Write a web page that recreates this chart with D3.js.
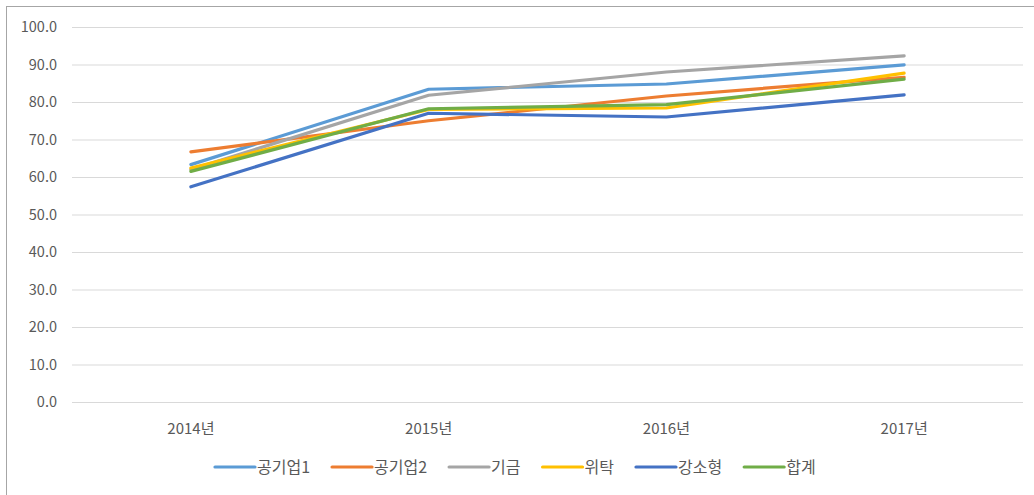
<!DOCTYPE html>
<html>
<head>
<meta charset="utf-8">
<script src="https://cdn.jsdelivr.net/npm/d3@7"></script>
<style>
  body { margin: 0; background: #fff; }
  svg text { font-family: "Noto Sans CJK KR", "Noto Sans", sans-serif; fill: #595959; }
</style>
</head>
<body>
<svg id="chart" width="1034" height="495"></svg>
<script>
// chart data
const years = ['2014년', '2015년', '2016년', '2017년'];
const seriesNames = ['공기업1', '공기업2', '기금', '위탁', '강소형', '합계'];
const gong1 = [63.3, 83.4, 84.8, 89.9];
const gong2 = [66.7, 75.0, 81.6, 86.6];
const gigeum = [62.0, 81.8, 88.0, 92.3];
const witak = [62.4, 78.0, 78.4, 87.7];
const gangso = [57.4, 77.0, 76.0, 81.9];
const total = [61.5, 78.2, 79.3, 86.1];
const yTicks = [0, 10, 20, 30, 40, 50, 60, 70, 80, 90, 100];

const colors = ['#5b9bd5', '#ed7d31', '#a5a5a5', '#ffc000', '#4472c4', '#70ad47'];
const allValues = [gong1, gong2, gigeum, witak, gangso, total];

const svg = d3.select('#chart');

// frame
svg.append('rect')
    .attr('x', 6.5).attr('y', 6.5)
    .attr('width', 1040).attr('height', 500)
    .attr('fill', 'none')
    .attr('stroke', '#a6a6a6')
    .attr('stroke-width', 1);

const plotLeft = 72, plotRight = 1023, plotTop = 27, plotBottom = 402;

let x = d3.scaleBand().domain(years).range([plotLeft, plotRight]);
let y = d3.scaleLinear().domain([0, 100]).range([plotBottom, plotTop]);

// grid + y labels
const yAxis = d3.axisLeft(y)
    .tickValues(yTicks)
    .tickSize(-(plotRight - plotLeft))
    .tickPadding(15)
    .tickFormat(d3.format('.1f'));

svg.append('g')
    .attr('transform', 'translate(' + plotLeft + ',0)')
    .call(yAxis)
    .call(g => g.select('.domain').remove())
    .call(g => g.selectAll('line').attr('stroke', '#d9d9d9'))
    .call(g => g.selectAll('text').attr('font-size', 14.5).style('fill', '#595959'));

// x labels
const xAxis = d3.axisBottom(x).tickSize(0).tickPadding(21);
svg.append('g')
    .attr('transform', 'translate(0,' + plotBottom + ')')
    .call(xAxis)
    .call(g => g.select('.domain').remove())
    .call(g => g.selectAll('text').attr('font-size', 15).style('fill', '#595959'));

let line = d3.line()
    .x((d, i) => x(years[i]) + x.bandwidth() / 2)
    .y(d => y(d));

svg.append('g')
    .selectAll('path')
    .data(allValues)
    .enter()
    .append('path')
    .attr('d', line)
    .attr('fill', 'none')
    .attr('stroke', (d, i) => colors[i])
    .attr('stroke-width', 3.2)
    .attr('stroke-linejoin', 'round')
    .attr('stroke-linecap', 'round');

// legend
const legend = svg.append('g').attr('transform', 'translate(0,467)');
let lx = 215;
seriesNames.forEach(function (name, i) {
    const item = legend.append('g').attr('transform', 'translate(' + lx + ',0)');
    item.append('line')
        .attr('x1', 0).attr('x2', 40)
        .attr('y1', 0).attr('y2', 0)
        .attr('stroke', colors[i])
        .attr('stroke-width', 3.2)
        .attr('stroke-linecap', 'round');
    const t = item.append('text')
        .attr('x', 42)
        .attr('dy', '0.35em')
        .attr('font-size', 16)
        .text(name);
    lx += 42 + t.node().getComputedTextLength() + 22;
});
</script>
</body>
</html>
